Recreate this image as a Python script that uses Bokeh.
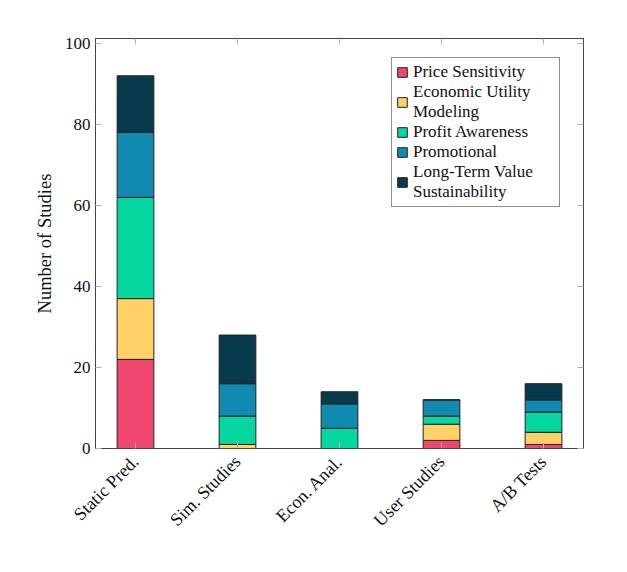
from bokeh.plotting import figure
from bokeh.models import (ColumnDataSource, Range1d, FixedTicker, LinearAxis, Legend, LegendItem,
                          CustomLabelingPolicy)
from bokeh.embed import file_html
from bokeh.resources import INLINE
import math

categories = ["Static Pred.", "Sim. Studies", "Econ. Anal.", "User Studies", "A/B Tests"]
series_names = ["Price Sensitivity", "Economic Utility\nModeling", "Profit Awareness",
                "Promotional", "Long-Term Value\nSustainability"]
price = [22, 0, 0, 2, 1]
econ = [15, 1, 0, 4, 3]
profit = [25, 7, 5, 2, 5]
promo = [16, 8, 6, 4, 3]
longterm = [14, 12, 3, 0, 4]
colors = ["#EF476F", "#FFD166", "#06D6A0", "#118AB2", "#073B4C"]
y_ticks = [0, 20, 40, 60, 80, 100]

FONT = "Liberation Serif"
FS = "17px"
keys = ["price", "econ", "profit", "promo", "longterm"]
src = ColumnDataSource(dict(x=list(range(len(categories))), price=price, econ=econ,
                            profit=profit, promo=promo, longterm=longterm))

p = figure(width=611, height=556, output_backend="svg", toolbar_location=None,
           x_range=Range1d(-0.392, len(categories) - 1 + 0.392), y_range=Range1d(0, 101.2),
           min_border_left=95, min_border_right=28, min_border_top=38, min_border_bottom=108)
p.grid.visible = False
p.outline_line_color = "#444444"
p.outline_line_width = 1

renderers = p.vbar_stack(keys, x="x", width=0.36, source=src, fill_color=colors,
                         line_color="#222222", line_width=1)

# axes
p.xaxis.ticker = FixedTicker(ticks=list(range(len(categories))))
p.xaxis.major_label_overrides = {i: c for i, c in enumerate(categories)}
p.xaxis.major_label_orientation = math.pi / 4
p.yaxis.ticker = FixedTicker(ticks=y_ticks)
p.yaxis.axis_label = "Number of Studies"
for ax in [p.xaxis[0], p.yaxis[0]]:
    ax.major_tick_in = 6
    ax.major_tick_out = 0
    ax.minor_tick_line_color = None
    ax.major_tick_line_color = "#b0b0b0"
    ax.axis_line_color = "#444444"
    ax.major_label_text_font = FONT
    ax.major_label_text_font_size = FS
    ax.major_label_text_color = "#111111"
    ax.axis_label_text_font = FONT
    ax.axis_label_text_font_size = "18.5px"
    ax.axis_label_text_font_style = "normal"
    ax.axis_label_text_color = "#111111"
p.xaxis.major_label_text_font_size = "18px"
p.xaxis.major_label_standoff = 10
p.yaxis.major_label_standoff = 5
p.yaxis.axis_label_standoff = 7

hide = "for (let i = 0; i < indices.size; i++) { indices.unset(i) } return indices"
top_ax = LinearAxis(ticker=FixedTicker(ticks=list(range(len(categories)))),
                    major_label_policy=CustomLabelingPolicy(code=hide),
                    major_tick_in=6, major_tick_out=0, minor_tick_line_color=None,
                    major_tick_line_color="#b0b0b0", axis_line_color="#444444")
right_ax = LinearAxis(ticker=FixedTicker(ticks=y_ticks),
                      major_label_policy=CustomLabelingPolicy(code=hide),
                      major_tick_in=6, major_tick_out=0, minor_tick_line_color=None,
                      major_tick_line_color="#b0b0b0", axis_line_color="#444444")
p.add_layout(top_ax, "above")
p.add_layout(right_ax, "right")

legend = Legend(items=[LegendItem(label=n, renderers=[r]) for n, r in zip(series_names, renderers)],
                location=(296, 241))
legend.label_text_font = FONT
legend.label_text_font_size = FS
legend.label_text_color = "#111111"
legend.glyph_width = 12
legend.glyph_height = 12
legend.label_standoff = 5
legend.label_width = 142
legend.label_height = 17
legend.spacing = 0
legend.padding = 4
legend.margin = 0
legend.border_line_color = "#222222"
legend.border_line_width = 1
p.add_layout(legend, "center")

open("out.html", "w").write(file_html(p, INLINE))
